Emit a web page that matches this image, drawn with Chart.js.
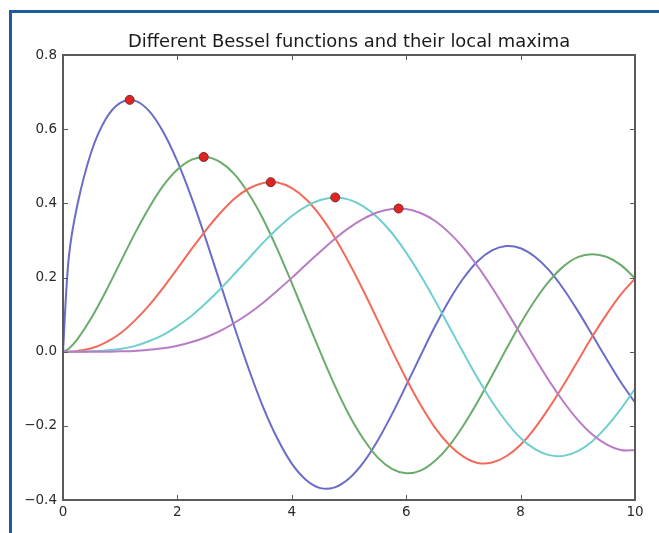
<!DOCTYPE html>
<html lang="en">
<head>
  <meta charset="UTF-8" />
  <title>Different Bessel functions and their local maxima</title>
  <script src="https://cdn.jsdelivr.net/npm/chart.js"></script>
  <style>
    html, body { margin: 0; padding: 0; background: #fff; }
    .page { position: relative; width: 659px; height: 533px; overflow: hidden; }
    .frame {
      position: absolute; left: 9px; top: 10px; right: 0; bottom: 0;
      border-left: 3px solid #1f5c9c; border-top: 3px solid #1f5c9c;
    }
    #grafico { position: absolute; left: 0; top: 0; }
  </style>
</head>
<body>
  <div class="page">
    <div class="frame"></div>
    <canvas id="grafico" width="659" height="533"></canvas>
  </div>

  <script>
    const chartTitle = 'Different Bessel functions and their local maxima';

    // sample positions along x (shared by all curves)
    const xs = [0, 0.1, 0.25, 0.5, 0.75, 1, 1.25, 1.5, 1.75, 2, 2.25, 2.5, 2.75, 3, 3.25, 3.5, 3.75, 4,
      4.25, 4.5, 4.75, 5, 5.25, 5.5, 5.75, 6, 6.25, 6.5, 6.75, 7, 7.25, 7.5, 7.75, 8, 8.25, 8.5, 8.75,
      9, 9.25, 9.5, 9.75, 10];

    // curve values
    const blueY = [0, 0.252, 0.395, 0.541, 0.628, 0.671, 0.677, 0.650, 0.593, 0.513, 0.414, 0.302, 0.184,
      0.065, -0.048, -0.150, -0.235, -0.302, -0.346, -0.368, -0.366, -0.342, -0.299, -0.240, -0.169,
      -0.091, -0.011, 0.067, 0.138, 0.198, 0.244, 0.273, 0.285, 0.279, 0.256, 0.219, 0.169, 0.110,
      0.046, -0.019, -0.082, -0.137];
    const greenY = [0, 0.008, 0.033, 0.092, 0.163, 0.240, 0.317, 0.387, 0.447, 0.491, 0.518, 0.525, 0.511,
      0.478, 0.425, 0.357, 0.275, 0.185, 0.091, -0.002, -0.091, -0.170, -0.235, -0.285, -0.316,
      -0.328, -0.321, -0.295, -0.254, -0.199, -0.135, -0.065, 0.007, 0.076, 0.138, 0.190, 0.230,
      0.255, 0.263, 0.256, 0.234, 0.198];
    const redY = [0, 0, 0.002, 0.009, 0.025, 0.049, 0.083, 0.124, 0.172, 0.224, 0.277, 0.328, 0.374,
      0.413, 0.440, 0.455, 0.456, 0.441, 0.411, 0.366, 0.308, 0.240, 0.165, 0.085, 0.004,
      -0.073, -0.143, -0.204, -0.251, -0.283, -0.300, -0.299, -0.282, -0.251, -0.206, -0.151, -0.090,
      -0.025, 0.040, 0.100, 0.154, 0.197];
    const cyanY = [0, 0, 0, 0.001, 0.003, 0.007, 0.015, 0.028, 0.045, 0.069, 0.097, 0.131, 0.169,
      0.210, 0.252, 0.294, 0.332, 0.366, 0.392, 0.409, 0.416, 0.410, 0.392, 0.362, 0.320,
      0.267, 0.206, 0.139, 0.068, -0.003, -0.072, -0.135, -0.189, -0.233, -0.263, -0.279, -0.281,
      -0.268, -0.242, -0.203, -0.155, -0.100];
    const magentaY = [0, 0, 0, 0, 0, 0.001, 0.002, 0.005, 0.009, 0.016, 0.026, 0.039, 0.056,
      0.078, 0.103, 0.132, 0.165, 0.199, 0.235, 0.270, 0.304, 0.334, 0.358, 0.376, 0.385,
      0.385, 0.374, 0.353, 0.321, 0.280, 0.230, 0.173, 0.111, 0.047, -0.017, -0.079, -0.135,
      -0.184, -0.223, -0.250, -0.265, -0.266];

    // local maxima (red dots)
    const peakX = [1.166, 2.460, 3.632, 4.759, 5.867];
    const peakY = [0.679, 0.525, 0.457, 0.416, 0.386];

    // ticks
    const xTickValues = [0, 2, 4, 6, 8, 10];
    const xTickLabels = ['0', '2', '4', '6', '8', '10'];
    const yTickValues = [-0.4, -0.2, 0, 0.2, 0.4, 0.6, 0.8];
    const yTickLabels = ['\u22120.4', '\u22120.2', '0.0', '0.2', '0.4', '0.6', '0.8'];

    const toPoints = (px, py) => px.map((x, i) => ({ x: x, y: py[i] }));

    const curve = (ys, color, order) => ({
      data: toPoints(xs, ys),
      borderColor: color,
      borderWidth: 2,
      pointRadius: 0,
      fill: false,
      tension: 0.33,
      order: order
    });

    const fontName = "'DejaVu Sans', sans-serif";

    // spines, inward tick marks on all four sides and the title centred over the axes
    const axesFrame = {
      id: 'axesFrame',
      afterDatasetsDraw(chart) {
        const { ctx, chartArea: a, scales } = chart;
        ctx.save();
        ctx.strokeStyle = '#5a5a5a';
        ctx.lineWidth = 1;
        ctx.beginPath();
        scales.x.ticks.forEach(t => {
          const px = Math.round(scales.x.getPixelForValue(t.value)) + 0.5;
          ctx.moveTo(px, a.bottom); ctx.lineTo(px, a.bottom - 5);
          ctx.moveTo(px, a.top); ctx.lineTo(px, a.top + 5);
        });
        scales.y.ticks.forEach(t => {
          const py = Math.round(scales.y.getPixelForValue(t.value)) + 0.5;
          ctx.moveTo(a.left, py); ctx.lineTo(a.left + 5, py);
          ctx.moveTo(a.right, py); ctx.lineTo(a.right - 5, py);
        });
        ctx.stroke();
        ctx.lineWidth = 2;
        ctx.strokeRect(a.left, a.top, a.right - a.left, a.bottom - a.top);

        ctx.fillStyle = '#1a1a1a';
        ctx.font = '17.9px ' + fontName;
        ctx.textAlign = 'center';
        ctx.textBaseline = 'alphabetic';
        ctx.fillText(chartTitle, (a.left + a.right) / 2, a.top - 8);
        ctx.restore();
      }
    };

    new Chart(document.getElementById('grafico'), {
      type: 'line',
      data: {
        datasets: [
          {
            data: toPoints(peakX, peakY),
            showLine: false,
            pointRadius: 4.5,
            pointBackgroundColor: '#e02424',
            pointBorderColor: '#7a2a2a',
            pointBorderWidth: 1,
            order: 0
          },
          curve(blueY, '#6b6bc9', 5),
          curve(greenY, '#6aac6a', 4),
          curve(redY, '#f46a5a', 3),
          curve(cyanY, '#6fcfcf', 2),
          curve(magentaY, '#b97cc4', 1)
        ]
      },
      options: {
        responsive: false,
        animation: false,
        devicePixelRatio: 1,
        layout: { padding: { left: 0, right: 24, top: 55, bottom: 0 } },
        plugins: {
          legend: { display: false },
          tooltip: { enabled: false },
          title: { display: false }
        },
        scales: {
          x: {
            type: 'linear',
            min: 0,
            max: 10,
            afterBuildTicks: s => { s.ticks = xTickValues.map(v => ({ value: v })); },
            afterFit: s => { s.height = 33; },
            ticks: {
              callback: (v, i) => xTickLabels[i],
              color: '#2b2b2b',
              font: { family: fontName, size: 13.5 },
              padding: 4,
              maxRotation: 0,
              autoSkip: false
            },
            grid: { display: false, drawTicks: false },
            border: { display: false }
          },
          y: {
            type: 'linear',
            min: -0.4,
            max: 0.8,
            afterBuildTicks: s => { s.ticks = yTickValues.map(v => ({ value: v })); },
            afterFit: s => { s.width = 63; },
            ticks: {
              callback: (v, i) => yTickLabels[i],
              color: '#2b2b2b',
              font: { family: fontName, size: 13.5 },
              padding: 6,
              autoSkip: false
            },
            grid: { display: false, drawTicks: false },
            border: { display: false }
          }
        }
      },
      plugins: [axesFrame]
    });
  </script>
</body>
</html>
